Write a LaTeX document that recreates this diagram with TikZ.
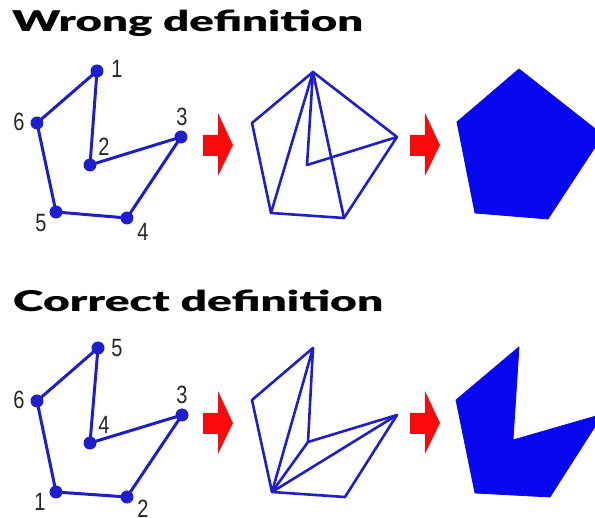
\documentclass[tikz,border=0pt]{standalone}
\usepackage{fontspec}
\setmainfont{Liberation Sans}
\newfontfamily\titlefont{Lato}[UprightFont={* Black}]
\definecolor{lineblue}{RGB}{30,30,205}
\definecolor{fillblue}{RGB}{8,8,238}
\definecolor{arrowred}{RGB}{250,10,10}
\tikzset{
  edge/.style={draw=lineblue, line width=3pt, line join=round, line cap=round},
  fanline/.style={draw=lineblue, line width=2.6pt, line join=round, line cap=round},
  dot/.style={circle, fill=lineblue, inner sep=0pt, minimum size=13pt},
  num/.style={inner sep=0pt, text=black!85, font=\fontsize{25}{25}\selectfont},
  title/.style={inner sep=0pt, anchor=base west},
  bigarrow/.style={fill=arrowred, draw=none},
  solid shape/.style={fill=fillblue, draw=fillblue, line width=0.8pt, line join=round}
}
\newcommand{\narrow}[1]{\scalebox{0.8}[1]{#1}}
\newcommand{\redarrow}[3]{% name, x, y (center left of shaft)
  \path[bigarrow] (#2,#3-10) -- (#2+15,#3-10) -- (#2+15,#3-32) -- (#2+30,#3) -- (#2+15,#3+31) -- (#2+15,#3+11) -- (#2,#3+11) -- cycle;
  \coordinate (#1) at (#2+15,#3);
}
\begin{document}
\begin{tikzpicture}[x=1pt,y=-1pt]
\useasboundingbox (0,0) rectangle (595,518);
\clip (0,0) rectangle (595,518);

% ---------------- titles ----------------
\node[title] (t1) at (12,32) {\resizebox{351pt}{21.5pt}{\titlefont Wrong definition}};
\node[title] (t2) at (13,312) {\resizebox{370pt}{21.5pt}{\titlefont Correct definition}};

% ================= WRONG =================
\coordinate (a1) at (97,71);
\coordinate (a2) at (90,165);
\coordinate (a3) at (181,137);
\coordinate (a4) at (127,218);
\coordinate (a5) at (56,212);
\coordinate (a6) at (37,123);
\draw[edge] (a1) -- (a2) -- (a3) -- (a4) -- (a5) -- (a6) -- cycle;
\foreach \i in {1,...,6} \node[dot] (da\i) at (a\i) {};
\node[num] (la1) at (117,69) {\narrow{1}};
\node[num] (la2) at (104,147) {\narrow{2}};
\node[num] (la3) at (182,117) {\narrow{3}};
\node[num] (la4) at (143,232) {\narrow{4}};
\node[num] (la5) at (41,223) {\narrow{5}};
\node[num] (la6) at (19,122) {\narrow{6}};

\redarrow{ra1}{203}{145}

\coordinate (b1) at (313,72);
\coordinate (b2) at (307,165);
\coordinate (b3) at (397,137);
\coordinate (b4) at (344,218);
\coordinate (b5) at (271,213);
\coordinate (b6) at (252,123);
\draw[fanline] (b1) -- (b2) -- (b3) -- (b4) -- (b5) -- (b6) -- cycle;
\draw[fanline] (b1) -- (b3);
\draw[fanline] (b1) -- (b4);
\draw[fanline] (b1) -- (b5);

\redarrow{ra2}{410}{145}

\coordinate (c1) at (519,69);
\coordinate (c3) at (603,135);
\coordinate (c4) at (548,219);
\coordinate (c5) at (475,213);
\coordinate (c6) at (457,122);
\path[solid shape] (c1) -- (c3) -- (c4) -- (c5) -- (c6) -- cycle;

% ================= CORRECT =================
\coordinate (d5) at (98,348);
\coordinate (d4) at (90,443);
\coordinate (d3) at (182,415);
\coordinate (d2) at (127,497);
\coordinate (d1) at (56,492);
\coordinate (d6) at (37,401);
\draw[edge] (d1) -- (d2) -- (d3) -- (d4) -- (d5) -- (d6) -- cycle;
\foreach \i in {1,...,6} \node[dot] (dd\i) at (d\i) {};
\node[num] (ld5) at (117,348) {\narrow{5}};
\node[num] (ld6) at (19,400) {\narrow{6}};
\node[num] (ld4) at (104,425) {\narrow{4}};
\node[num] (ld3) at (182,395) {\narrow{3}};
\node[num] (ld1) at (40,502) {\narrow{1}};
\node[num] (ld2) at (143,509) {\narrow{2}};

\redarrow{ra3}{203}{423}

\coordinate (e5) at (313,348);
\coordinate (e4) at (308,442);
\coordinate (e3) at (397,415);
\coordinate (e2) at (345,497);
\coordinate (e1) at (272,492);
\coordinate (e6) at (252,400);
\draw[fanline] (e1) -- (e2) -- (e3) -- (e4) -- (e5) -- (e6) -- cycle;
\draw[fanline] (e1) -- (e3);
\draw[fanline] (e1) -- (e4);
\draw[fanline] (e1) -- (e5);

\redarrow{ra4}{410}{423}

\coordinate (f5) at (519,347);
\coordinate (f4) at (513,440);
\coordinate (f3) at (603,414);
\coordinate (f2) at (550,497);
\coordinate (f1) at (475,493);
\coordinate (f6) at (456,400);
\path[solid shape] (f1) -- (f2) -- (f3) -- (f4) -- (f5) -- (f6) -- cycle;
\end{tikzpicture}
\end{document}
